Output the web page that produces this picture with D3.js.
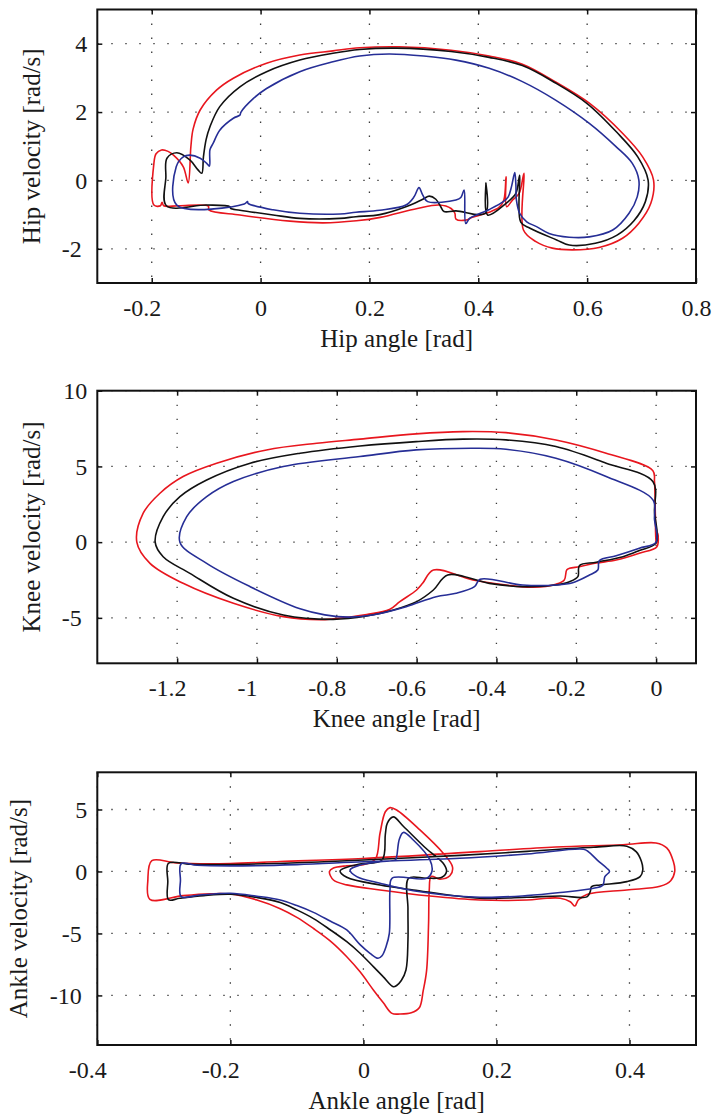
<!DOCTYPE html>
<html>
<head>
<meta charset="utf-8">
<script src="https://cdn.jsdelivr.net/npm/d3@7"></script>
<style>
  body { margin: 0; background: #fff; }
  svg { background: #fff; }
  text { font-family: "Liberation Serif", "Times New Roman", serif; fill: #1a1a1a; }
  .tick text { font-size: 24px; }
  .title { font-size: 25px; }
  .grid { stroke: #3a3a3a; stroke-width: 1.3; stroke-dasharray: 1.4 12.6; }
  .curve { fill: none; stroke-width: 1.6; stroke-linejoin: round; }
</style>
</head>
<body>
<script>
// phase portraits, [angle, velocity]
// three runs per joint: red, black, blue

// HIP
var hipRed = [[-0.133,-0.07],[-0.128,1.0],[-0.124,1.5],[-0.111,2.06],[-0.081,2.64],[-0.05,2.99],[0.011,3.43],[0.072,3.67],[0.133,3.79],[0.182,3.88],[0.254,3.91],[0.35,3.81],[0.42,3.64],[0.481,3.4],[0.542,2.88],[0.604,2.26],[0.665,1.38],[0.702,0.69],[0.722,0.01],[0.717,-0.67],[0.695,-1.25],[0.665,-1.69],[0.622,-1.96],[0.573,-2.03],[0.536,-1.98],[0.506,-1.79],[0.483,-1.45],[0.484,0.21],[0.475,-0.38],[0.463,-0.57],[0.452,-0.77],[0.451,0.11],[0.447,-0.57],[0.438,-0.79],[0.42,-0.93],[0.389,-1.08],[0.377,-1.16],[0.359,-1.13],[0.357,-0.96],[0.35,-0.82],[0.328,-0.72],[0.288,-0.82],[0.22,-1.08],[0.176,-1.18],[0.115,-1.24],[0.054,-1.19],[-0.038,-1.01],[-0.095,-0.86],[-0.096,-0.75],[-0.15,-0.74],[-0.178,-0.74],[-0.181,-0.64],[-0.184,-0.74],[-0.196,-0.72],[-0.196,0.5],[-0.192,0.78],[-0.182,0.89],[-0.17,0.85],[-0.16,0.74],[-0.142,0.40]];
var hipBlack = [[-0.108,0.21],[-0.105,0.69],[-0.1,1.2],[-0.093,1.57],[-0.075,2.16],[-0.038,2.74],[0.011,3.18],[0.072,3.52],[0.133,3.72],[0.182,3.83],[0.25,3.87],[0.35,3.77],[0.42,3.6],[0.481,3.36],[0.542,2.85],[0.6,2.25],[0.655,1.4],[0.693,0.69],[0.712,0.01],[0.707,-0.62],[0.686,-1.18],[0.655,-1.6],[0.615,-1.84],[0.567,-1.89],[0.544,-1.74],[0.495,-1.4],[0.478,-1.22],[0.476,0.15],[0.469,-0.38],[0.451,-0.67],[0.417,-1.01],[0.414,-0.08],[0.413,-0.96],[0.359,-0.89],[0.337,-0.91],[0.331,-0.77],[0.322,-0.55],[0.31,-0.46],[0.298,-0.55],[0.267,-0.77],[0.219,-1.0],[0.175,-1.06],[0.146,-1.11],[0.072,-1.11],[0.023,-1.01],[-0.038,-0.87],[-0.055,-0.82],[-0.056,-0.77],[-0.099,-0.72],[-0.173,-0.74],[-0.174,0.1],[-0.172,0.65],[-0.154,0.81],[-0.13,0.6],[-0.115,0.31]];
var hipBlue = [[-0.094,0.42],[-0.093,0.9],[-0.087,1.09],[-0.075,1.47],[-0.05,1.82],[-0.038,1.91],[-0.036,2.0],[-0.013,2.4],[0.011,2.69],[0.072,3.18],[0.133,3.47],[0.182,3.64],[0.236,3.7],[0.3,3.64],[0.359,3.52],[0.42,3.28],[0.481,2.89],[0.542,2.35],[0.604,1.67],[0.653,0.99],[0.683,0.5],[0.695,0.01],[0.692,-0.48],[0.677,-0.96],[0.647,-1.45],[0.604,-1.65],[0.567,-1.66],[0.53,-1.55],[0.507,-1.35],[0.489,-1.21],[0.476,-0.96],[0.47,-0.57],[0.469,-0.1],[0.467,0.23],[0.461,-0.18],[0.455,-0.48],[0.446,-0.62],[0.42,-0.85],[0.384,-1.11],[0.377,-1.26],[0.374,-0.28],[0.368,-0.5],[0.359,-0.57],[0.307,-0.62],[0.298,-0.43],[0.291,-0.21],[0.282,-0.48],[0.267,-0.72],[0.219,-0.87],[0.175,-0.93],[0.146,-0.98],[0.072,-0.96],[0.023,-0.86],[-0.023,-0.67],[-0.024,-0.62],[-0.03,-0.69],[-0.154,-0.72],[-0.155,0.4],[-0.142,0.69],[-0.13,0.74],[-0.111,0.65],[-0.099,0.5]];

// KNEE
var kneeRed = [[-1.301,0],[-1.285,1.91],[-1.243,3.23],[-1.185,4.33],[-1.101,5.21],[-0.976,6.09],[-0.85,6.53],[-0.742,6.8],[-0.601,7.15],[-0.484,7.3],[-0.376,7.23],[-0.251,6.75],[-0.125,5.87],[-0.008,4.72],[-0.004,4.0],[-0.002,2.0],[0.0,-0.1],[0.004,0.6],[0.002,-0.3],[-0.042,-0.73],[-0.1,-1.18],[-0.15,-1.38],[-0.192,-1.62],[-0.217,-1.73],[-0.224,-1.84],[-0.23,-2.5],[-0.251,-2.78],[-0.309,-2.98],[-0.376,-2.83],[-0.459,-2.5],[-0.558,-1.84],[-0.585,-2.72],[-0.6,-3.16],[-0.642,-3.93],[-0.668,-4.45],[-0.725,-4.78],[-0.809,-5.06],[-0.842,-5.12],[-0.934,-4.92],[-1.059,-4.04],[-1.185,-2.72],[-1.268,-1.4]];
var kneeBlack = [[-1.255,0],[-1.235,1.68],[-1.193,3.0],[-1.126,4.1],[-1.017,5.21],[-0.892,5.87],[-0.742,6.35],[-0.601,6.64],[-0.484,6.8],[-0.376,6.75],[-0.251,6.31],[-0.125,5.21],[-0.008,4.0],[-0.004,2.0],[0.0,-0.05],[-0.042,-0.55],[-0.083,-0.96],[-0.15,-1.33],[-0.192,-1.55],[-0.196,-2.28],[-0.217,-2.61],[-0.251,-2.83],[-0.334,-2.94],[-0.418,-2.72],[-0.522,-2.17],[-0.558,-3.16],[-0.6,-3.93],[-0.658,-4.48],[-0.725,-4.88],[-0.809,-5.1],[-0.934,-4.81],[-1.059,-3.71],[-1.168,-2.06],[-1.235,-0.96]];
var kneeBlue = [[-1.193,0],[-1.176,1.68],[-1.126,3.0],[-1.059,4.0],[-0.934,4.99],[-0.742,5.65],[-0.601,6.09],[-0.459,6.2],[-0.376,6.13],[-0.251,5.54],[-0.125,4.33],[-0.008,2.79],[-0.004,1.5],[0.0,0.0],[-0.042,-0.4],[-0.1,-0.9],[-0.142,-1.22],[-0.146,-1.84],[-0.167,-2.17],[-0.209,-2.68],[-0.251,-2.83],[-0.334,-2.83],[-0.441,-2.45],[-0.455,-2.94],[-0.501,-3.38],[-0.551,-3.6],[-0.626,-4.26],[-0.71,-4.81],[-0.77,-4.95],[-0.83,-4.8],[-0.892,-4.4],[-1.017,-2.94],[-1.126,-1.4]];

// ANKLE
var ankleRed = [[0.043,-11.45],[0.03,-10.6],[0.015,-9.56],[-0.005,-8.1],[-0.025,-6.88],[-0.05,-5.6],[-0.075,-4.6],[-0.1,-3.7],[-0.125,-3.0],[-0.16,-2.3],[-0.2,-1.82],[-0.23,-1.8],[-0.271,-1.95],[-0.321,-2.25],[-0.324,-0.7],[-0.318,0.87],[-0.281,0.68],[-0.2,0.64],[-0.125,0.8],[0.0,1.05],[0.175,1.6],[0.289,1.97],[0.39,2.15],[0.44,2.3],[0.456,1.9],[0.466,0.8],[0.468,0.0],[0.462,-0.75],[0.446,-1.2],[0.396,-1.49],[0.336,-1.85],[0.323,-2.3],[0.318,-2.79],[0.311,-2.44],[0.296,-2.16],[0.276,-2.16],[0.246,-2.3],[0.175,-2.3],[0.1,-1.98],[0.025,-1.49],[-0.025,-1.08],[-0.045,-0.69],[-0.051,0.0],[-0.045,0.28],[-0.025,0.46],[0.0,0.55],[0.018,1.0],[0.025,3.08],[0.033,4.82],[0.04,5.15],[0.05,4.96],[0.085,3.35],[0.12,1.47],[0.134,0.35],[0.13,-0.35],[0.115,-0.62],[0.102,-0.4],[0.099,-1.5],[0.098,-4.18],[0.095,-8.0],[0.09,-9.6],[0.084,-11.0],[0.072,-11.4],[0.055,-11.5]];
var ankleBlack = [[0.045,-9.3],[0.03,-8.5],[0.015,-7.68],[-0.005,-6.6],[-0.025,-5.67],[-0.05,-4.7],[-0.075,-3.8],[-0.1,-3.1],[-0.125,-2.5],[-0.16,-2.1],[-0.2,-1.84],[-0.24,-1.95],[-0.276,-2.16],[-0.293,-2.28],[-0.294,-0.8],[-0.293,0.66],[-0.26,0.58],[-0.2,0.56],[-0.1,0.7],[0.0,0.92],[0.145,1.3],[0.246,1.62],[0.346,1.95],[0.396,2.04],[0.41,1.6],[0.418,0.8],[0.42,0.12],[0.416,-0.42],[0.396,-0.82],[0.356,-1.09],[0.343,-1.22],[0.341,-1.63],[0.336,-2.05],[0.296,-1.98],[0.246,-2.08],[0.175,-2.16],[0.075,-1.49],[0.025,-1.09],[-0.025,-0.47],[-0.035,0.04],[-0.025,0.34],[-0.005,0.6],[0.028,0.93],[0.033,3.0],[0.036,3.9],[0.045,4.4],[0.06,3.65],[0.094,1.87],[0.12,0.66],[0.125,0.0],[0.118,-0.47],[0.095,-0.55],[0.068,-0.55],[0.067,-3.0],[0.067,-5.53],[0.064,-7.95],[0.057,-8.8],[0.05,-9.2]];
var ankleBlue = [[0.022,-7.0],[0.01,-6.6],[-0.005,-5.9],[-0.025,-4.72],[-0.05,-4.0],[-0.075,-3.3],[-0.1,-2.75],[-0.125,-2.3],[-0.16,-2.0],[-0.2,-1.76],[-0.246,-1.9],[-0.274,-2.03],[-0.275,-0.7],[-0.274,0.62],[-0.25,0.5],[-0.2,0.45],[-0.1,0.55],[0.0,0.78],[0.145,1.06],[0.246,1.41],[0.331,1.79],[0.338,1.6],[0.352,0.9],[0.366,0.26],[0.37,0.0],[0.363,-0.42],[0.36,-1.1],[0.346,-1.36],[0.296,-1.7],[0.246,-1.95],[0.175,-2.08],[0.075,-1.55],[0.025,-0.95],[-0.01,-0.42],[-0.02,0.12],[-0.005,0.52],[0.025,0.79],[0.048,0.93],[0.05,1.19],[0.054,2.6],[0.06,3.15],[0.075,2.54],[0.1,0.93],[0.103,0.0],[0.095,-0.55],[0.043,-0.55],[0.04,-1.49],[0.039,-4.99],[0.034,-6.07],[0.028,-6.8]];

// tick values
var hipAngleTicks = [-0.2, 0, 0.2, 0.4, 0.6, 0.8];
var hipVelocityTicks = [-2, 0, 2, 4];
var kneeAngleTicks = [-1.2, -1, -0.8, -0.6, -0.4, -0.2, 0];
var kneeVelocityTicks = [-5, 0, 5, 10];
var ankleAngleTicks = [-0.4, -0.2, 0, 0.2, 0.4];
var ankleVelocityTicks = [-10, -5, 0, 5];

var seriesColors = ['#e8161e', '#111111', '#262e96'];

var w = 716;
var h = 1118;
var xLeft = 97.3;
var xRight = 696;

var svg = d3.select('body').append('svg')
  .attr('width', w)
  .attr('height', h);

var panels = [
  {top: 9.5, bottom: 283, xDomain: [-0.3, 0.8], yDomain: [-3, 5],
   xTicks: hipAngleTicks, yTicks: hipVelocityTicks,
   xTitle: 'Hip angle [rad]', yTitle: 'Hip velocity [rad/s]', yTitleX: 40,
   curves: [hipRed, hipBlack, hipBlue]},
  {top: 390.7, bottom: 663.3, xDomain: [-1.4, 0.1], yDomain: [-8, 10],
   xTicks: kneeAngleTicks, yTicks: kneeVelocityTicks,
   xTitle: 'Knee angle [rad]', yTitle: 'Knee velocity [rad/s]', yTitleX: 40,
   curves: [kneeRed, kneeBlack, kneeBlue]},
  {top: 772.3, bottom: 1045, xDomain: [-0.4, 0.5], yDomain: [-14, 8],
   xTicks: ankleAngleTicks, yTicks: ankleVelocityTicks,
   xTitle: 'Ankle angle [rad]', yTitle: 'Ankle velocity [rad/s]', yTitleX: 27,
   curves: [ankleRed, ankleBlack, ankleBlue]}
];

var fmt = function(d) { return String(d); };

panels.forEach(function(p) {
  var x = d3.scaleLinear().domain(p.xDomain).range([xLeft, xRight]);
  var y = d3.scaleLinear().domain(p.yDomain).range([p.bottom, p.top]);
  var g = svg.append('g');

  // dotted grid
  g.selectAll('.vgrid').data(p.xTicks).enter().append('line')
    .attr('class', 'grid')
    .attr('x1', function(d) { return x(d); })
    .attr('x2', function(d) { return x(d); })
    .attr('y1', p.top)
    .attr('y2', p.bottom);
  g.selectAll('.hgrid').data(p.yTicks).enter().append('line')
    .attr('class', 'grid')
    .attr('x1', xLeft)
    .attr('x2', xRight)
    .attr('y1', function(d) { return y(d); })
    .attr('y2', function(d) { return y(d); });

  // the three loops
  var line = d3.line()
    .x(function(d) { return x(d[0]); })
    .y(function(d) { return y(d[1]); })
    .curve(d3.curveCatmullRomClosed.alpha(0.5));

  g.selectAll('.curve').data(p.curves).enter().append('path')
    .attr('class', 'curve')
    .attr('d', line)
    .style('stroke', function(d, i) { return seriesColors[i]; });

  // axes, ticks pointing inward
  var bottomAxis = g.append('g')
    .attr('transform', 'translate(0,' + p.bottom + ')')
    .call(d3.axisBottom(x).tickValues(p.xTicks).tickSize(-5).tickPadding(15.5).tickFormat(fmt));
  bottomAxis.selectAll('text').attr('dx', function(d) { return d < 0 ? -10 : 0; });

  var leftAxis = g.append('g')
    .attr('transform', 'translate(' + xLeft + ',0)')
    .call(d3.axisLeft(y).tickValues(p.yTicks).tickSize(-5).tickPadding(10).tickFormat(fmt));
  leftAxis.selectAll('text').attr('dx', function(d) { return d < 0 ? -5.5 : 0; });

  g.append('g')
    .attr('transform', 'translate(0,' + p.top + ')')
    .call(d3.axisTop(x).tickValues(p.xTicks).tickSize(-5).tickFormat(''));
  g.append('g')
    .attr('transform', 'translate(' + xRight + ',0)')
    .call(d3.axisRight(y).tickValues(p.yTicks).tickSize(-5).tickFormat(''));

  g.selectAll('.domain').remove();
  g.selectAll('.tick line').style('stroke', '#111').style('stroke-width', 1.5);

  // box
  g.append('rect')
    .attr('x', xLeft)
    .attr('y', p.top)
    .attr('width', xRight - xLeft)
    .attr('height', p.bottom - p.top)
    .style('fill', 'none')
    .style('stroke', '#111')
    .style('stroke-width', 2);

  // titles
  g.append('text')
    .attr('class', 'title')
    .attr('x', (xLeft + xRight) / 2)
    .attr('y', p.bottom + 64)
    .attr('text-anchor', 'middle')
    .text(p.xTitle);
  g.append('text')
    .attr('class', 'title')
    .attr('transform', 'translate(' + p.yTitleX + ',' + (p.top + p.bottom) / 2 + ') rotate(-90)')
    .attr('text-anchor', 'middle')
    .text(p.yTitle);
});
</script>
</body>
</html>
